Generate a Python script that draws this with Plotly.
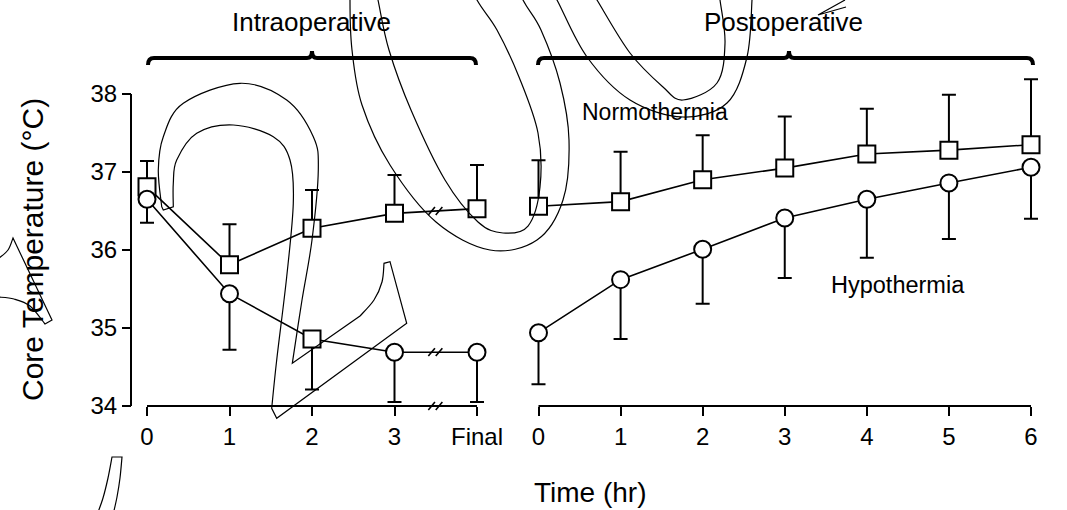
import plotly.graph_objects as go

# ---------------- data ----------------
intra_x = [0, 1, 2, 3, 4]
intra_ticktext = ["0", "1", "2", "3", "Final"]
post_x = [0, 1, 2, 3, 4, 5, 6]
post_ticktext = ["0", "1", "2", "3", "4", "5", "6"]

intra_norm = [36.81, 35.81, 36.28, 36.47, 36.53]
intra_norm_sd = [0.33, 0.52, 0.49, 0.49, 0.56]
intra_hypo = [36.65, 35.44, 34.86, 34.69, 34.69]
intra_hypo_sd = [0.30, 0.72, 0.65, 0.64, 0.64]
intra_hypo_symbols = ["circle", "circle", "square", "circle", "circle"]

post_norm = [36.56, 36.62, 36.90, 37.05, 37.23, 37.28, 37.35]
post_norm_sd = [0.59, 0.64, 0.57, 0.66, 0.58, 0.71, 0.84]
post_hypo = [34.94, 35.62, 36.01, 36.41, 36.65, 36.86, 37.06]
post_hypo_sd = [0.66, 0.76, 0.70, 0.77, 0.75, 0.72, 0.66]

y_ticks = [34, 35, 36, 37, 38]

W, H = 1067, 510
FONT = "Liberation Sans, Arial, sans-serif"


def px(x, y):
    return f"{x / W:.5f},{1 - y / H:.5f}"


def smooth(pts):
    s = ""
    n = len(pts)
    for i in range(n - 1):
        p0 = pts[i - 1] if i > 0 else pts[i]
        p1 = pts[i]
        p2 = pts[i + 1]
        p3 = pts[i + 2] if i + 2 < n else p2
        c1 = (p1[0] + (p2[0] - p0[0]) / 6, p1[1] + (p2[1] - p0[1]) / 6)
        c2 = (p2[0] - (p3[0] - p1[0]) / 6, p2[1] - (p3[1] - p1[1]) / 6)
        s += f" C {px(*c1)} {px(*c2)} {px(*p2)}"
    return s


def lines(pts):
    return "".join(f" L {px(*p)}" for p in pts[1:])


fig = go.Figure()

marker_line = dict(color="black", width=2)


def add(xaxis, x, y, sd, up, symbols):
    fig.add_trace(go.Scatter(
        x=x, y=y, xaxis=xaxis, yaxis="y", mode="lines+markers",
        line=dict(color="black", width=1.6),
        marker=dict(symbol=symbols, size=17, color="white", line=marker_line),
        error_y=dict(type="data", symmetric=False,
                     array=sd if up else [0] * len(sd),
                     arrayminus=[0] * len(sd) if up else sd,
                     color="black", thickness=2, width=7),
        cliponaxis=False, hoverinfo="skip",
    ))


add("x", intra_x, intra_norm, intra_norm_sd, True, "square")
add("x", intra_x, intra_hypo, intra_hypo_sd, False, intra_hypo_symbols)
add("x2", post_x, post_norm, post_norm_sd, True, "square")
add("x2", post_x, post_hypo, post_hypo_sd, False, "circle")

# pixel geometry of the axes (reference)
Y34, Y38 = 406.0, 94.0
ppu_y = (Y34 - Y38) / 4
L0, L1 = 147.0, 477.0
R0, R1 = 538.5, 1031.0
ppu_l = (L1 - L0) / 4
ppu_r = (R1 - R0) / 6
padx = 0.2
y_lo, y_hi = 33.85, 38.45

axis_common = dict(showline=False, ticks="outside", automargin=False,
                   ticklen=9, tickwidth=2, tickcolor="black", showgrid=False,
                   zeroline=False, tickfont=dict(family=FONT, size=24, color="black"))

fig.update_layout(
    width=W, height=H, margin=dict(l=0, r=0, t=0, b=0, pad=0, autoexpand=False),
    paper_bgcolor="white", plot_bgcolor="white", showlegend=False,
    xaxis=dict(domain=[(L0 - padx * ppu_l) / W, (L1 + padx * ppu_l) / W],
               range=[-padx, 4 + padx], anchor="free", position=1 - Y34 / H,
               tickvals=intra_x, ticktext=intra_ticktext, **axis_common),
    xaxis2=dict(domain=[(R0 - padx * ppu_r) / W, (R1 + padx * ppu_r) / W],
                range=[-padx, 6 + padx], anchor="free", position=1 - Y34 / H,
                tickvals=post_x, ticktext=post_ticktext, **axis_common),
    yaxis=dict(domain=[1 - (Y34 + (34 - y_lo) * ppu_y) / H, 1 - (Y38 - (y_hi - 38) * ppu_y) / H],
               range=[y_lo, y_hi], anchor="free", position=131 / W,
               tickvals=y_ticks, **axis_common),
)

shapes = []
axl = dict(color="black", width=2)
# axis lines spanning the axis extents
shapes.append(dict(type="line", xref="x", yref="y", x0=intra_x[0], x1=intra_x[-1],
                   y0=y_ticks[0], y1=y_ticks[0], line=axl))
shapes.append(dict(type="line", xref="x2", yref="y", x0=post_x[0], x1=post_x[-1],
                   y0=y_ticks[0], y1=y_ticks[0], line=axl))
shapes.append(dict(type="line", xref="paper", yref="y", x0=131 / W, x1=131 / W,
                   y0=y_ticks[0], y1=y_ticks[-1], line=axl))

# break marks "//" between 3 and Final
bx = 3.5
for yb in [(intra_norm[3] + intra_norm[4]) / 2, (intra_hypo[3] + intra_hypo[4]) / 2, y_ticks[0]]:
    for dx in (-0.05, 0.04):
        shapes.append(dict(type="line", xref="x", yref="y",
                           x0=bx + dx - 0.04, y0=yb - 0.05, x1=bx + dx + 0.04, y1=yb + 0.05,
                           line=dict(color="black", width=1.6)))


# brackets
def bracket(x0, xm, x1, y=58):
    p = (f"M {px(x0, y + 7)} Q {px(x0, y)} {px(x0 + 6, y)} L {px(xm - 5, y)}"
         f" Q {px(xm, y)} {px(xm, y - 7)} Q {px(xm, y)} {px(xm + 5, y)}"
         f" L {px(x1 - 6, y)} Q {px(x1, y)} {px(x1, y + 7)}")
    return dict(type="path", xref="paper", yref="paper", path=p,
                line=dict(color="black", width=4))


shapes.append(bracket(148, 312, 476))
shapes.append(bracket(538, 789, 1033))

# watermark outlines
wm = dict(color="black", width=1.2)
two = ("M " + px(161.7, 206.7)
       + smooth([(161.7, 206.7), (158.3, 170), (163.3, 136.7), (183.3, 103.3), (240, 83.3),
                 (286.7, 100), (313.3, 136.7), (318.3, 170), (312, 240), (302, 300), (292.3, 363.3)])
       + lines([(292.3, 363.3), (360, 316)])
       + smooth([(360, 316), (374, 300), (382, 282), (384, 263.3)])
       + lines([(384, 263.3), (390, 261.7), (406.7, 323.3), (276.7, 418.3), (271.7, 408.3)])
       + smooth([(271.7, 408.3), (276.7, 360), (286.7, 276.7), (293.3, 203.3), (290, 160),
                 (273.3, 136.7), (233.3, 125), (196.7, 133.3), (176.7, 160), (173.3, 183.3),
                 (173.3, 206.7)])
       + lines([(173.3, 206.7), (163.3, 210), (161.7, 206.7)]) + " Z")
shapes.append(dict(type="path", xref="paper", yref="paper", path=two, line=wm))

outer0 = [(352, -40), (350, 0), (352, 50), (362, 105), (390, 165), (436, 222), (490, 250),
          (537, 240), (563, 200), (569, 140), (560, 83), (541, 30), (523, 0), (505, -40)]
inner0 = [(370, -40), (378, 0), (389, 50), (411, 110), (445, 180), (478, 222), (503, 233),
          (528, 226), (540, 187), (538, 133), (519, 77), (497, 30), (477, 0), (458, -40)]
outerB = [(545, -20), (557, 0), (587, 57), (630, 100), (683, 117), (727, 103), (747, 57),
          (752, 0), (752, -20)]
innerB = [(585, -20), (597, 0), (630, 53), (663, 87), (683, 100), (717, 83), (725, 43),
          (720, 0), (717, -20)]
for pts in (outer0, inner0, outerB, innerB):
    shapes.append(dict(type="path", xref="paper", yref="paper",
                       path="M " + px(*pts[0]) + smooth(pts), line=wm))

left1 = ("M " + px(-2, 259) + smooth([(-2, 259), (8, 250), (13, 238)])
         + lines([(13, 238), (52, 320), (45, 324)])
         + smooth([(45, 324), (30, 306), (14, 299), (-2, 297)]))
left2 = ("M " + px(97, 515) + smooth([(97, 515), (103, 498), (108, 478), (112, 457)])
         + lines([(112, 457), (122, 457)])
         + smooth([(122, 457), (120, 478), (117, 497), (113, 515)]))
corner = "M " + px(845, 0) + lines([(845, 0), (818, 15), (846, 7)])
for p in (left1, left2, corner):
    shapes.append(dict(type="path", xref="paper", yref="paper", path=p, line=wm))

fig.update_layout(shapes=shapes)


def note(text, x, y, size, angle=0):
    fig.add_annotation(text=text, x=x / W, y=1 - y / H, xref="paper", yref="paper",
                       showarrow=False, textangle=angle, xanchor="center", yanchor="middle",
                       font=dict(family=FONT, size=size, color="black"))


note("Intraoperative", 311, 22, 26)
note("Postoperative", 783, 22, 26)
note("Normothermia", 655, 112, 23)
note("Hypothermia", 898, 285, 23.5)
note("Time (hr)", 590, 492, 28)
note("Core Temperature (°C)", 32, 250, 30, angle=-90)

fig.write_html("out.html")
